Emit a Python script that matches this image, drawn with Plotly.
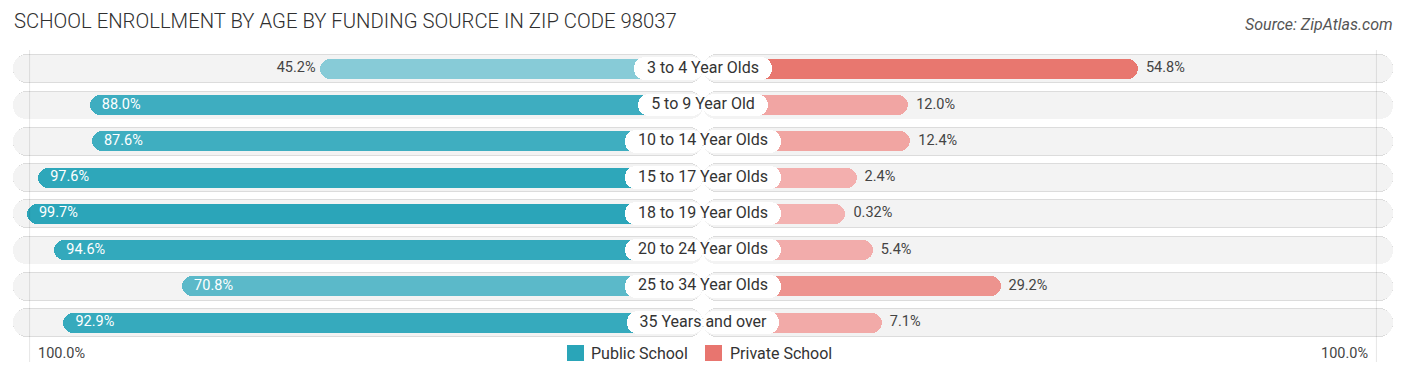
import plotly.graph_objects as go

# ---------------- data ----------------
categories = ["3 to 4 Year Olds", "5 to 9 Year Old", "10 to 14 Year Olds", "15 to 17 Year Olds",
              "18 to 19 Year Olds", "20 to 24 Year Olds", "25 to 34 Year Olds", "35 Years and over"]
public_vals = [45.2, 88.0, 87.6, 97.6, 99.7, 94.6, 70.8, 92.9]
private_vals = [54.8, 12.0, 12.4, 2.4, 0.32, 5.4, 29.2, 7.1]
public_labels = ["45.2%", "88.0%", "87.6%", "97.6%", "99.7%", "94.6%", "70.8%", "92.9%"]
private_labels = ["54.8%", "12.0%", "12.4%", "2.4%", "0.32%", "5.4%", "29.2%", "7.1%"]
series_names = ["Public School", "Private School"]
axis_labels = ["100.0%", "100.0%"]
title = "SCHOOL ENROLLMENT BY AGE BY FUNDING SOURCE IN ZIP CODE 98037"
source = "Source: ZipAtlas.com"

# ---------------- geometry / style ----------------
W, H = 1406, 377
CX = 703.0          # px of centre line
PXU = 5.37          # px per percent
OFF = 26.2          # gap (in % units) reserved for the centre label
XR = CX / PXU
ROW0, ROWH = 68.75, 36.25
YTOP = -ROW0 / ROWH
YBOT = YTOP + H / ROWH
FONT = "Roboto"

PUB_DARK = "#2aa5b8"
PRI_DARK = "#e8756f"


def pub_color(v):
    c0, c1 = (211, 235, 240), (42, 165, 185)
    t = v / 100
    return "rgb(%d,%d,%d)" % tuple(round(a + (b - a) * t) for a, b in zip(c0, c1))


def pri_color(v):
    c0, slope = (243, 178, 177), (-0.2, -1.07, -1.2)
    return "rgb(%d,%d,%d)" % tuple(round(a + s * v) for a, s in zip(c0, slope))


CW = {str(d): 0.5615 for d in range(10)}
CW.update({" ": 0.2476, "a": 0.531, "d": 0.548, "e": 0.517, "l": 0.242, "n": 0.540, "o": 0.557,
           "r": 0.331, "s": 0.516, "t": 0.320, "v": 0.483, "Y": 0.616, "O": 0.672})


def text_px(s, size):
    return sum(CW.get(ch, 0.55) for ch in s) * size


fig = go.Figure()

# background pills (shadow + fill), built as two rounded halves each
PILL = OFF + 100 + 2.3
for w, col, rad in [(0.79, "#dcdcdc", 14), (0.745, "#f3f3f3", 13)]:
    for sgn in (-1, 1):
        fig.add_trace(go.Bar(orientation="h", y=categories, x=[sgn * PILL] * len(categories), base=0,
                             width=w, marker=dict(color=col, cornerradius=rad, line=dict(width=0)),
                             showlegend=False, hoverinfo="skip"))

# public (left) bars
fig.add_trace(go.Bar(orientation="h", y=categories, x=[-(OFF + v) for v in public_vals], base=0,
                     width=0.552, name=series_names[0],
                     marker=dict(color=[pub_color(v) for v in public_vals], cornerradius=10,
                                 line=dict(width=0)),
                     showlegend=False, hoverinfo="skip"))
# private (right) bars
fig.add_trace(go.Bar(orientation="h", y=categories, x=[OFF + v for v in private_vals], base=0,
                     width=0.552, name=series_names[1],
                     marker=dict(color=[pri_color(v) for v in private_vals], cornerradius=10,
                                 line=dict(width=0)),
                     showlegend=False, hoverinfo="skip"))

# centre label boxes
halfw = [(text_px(c, 16) + 26) / 2 / PXU for c in categories]
for sgn in (-1, 1):
    fig.add_trace(go.Bar(orientation="h", y=categories, x=[sgn * h for h in halfw], base=0,
                         width=0.634, marker=dict(color="white", cornerradius=11, line=dict(width=0)),
                         showlegend=False, hoverinfo="skip"))

# centre labels
fig.add_trace(go.Scatter(x=[0] * len(categories), y=categories, mode="text", text=categories,
                         textposition="middle center", textfont=dict(family=FONT, size=16, color="#333333"),
                         showlegend=False, hoverinfo="skip"))

# public value labels
px_, pos_, col_ = [], [], []
for v in public_vals:
    end = -(OFF + v)
    if v > 60:
        px_.append(end + 12 / PXU); pos_.append("middle right"); col_.append("white")
    else:
        px_.append(end - 4 / PXU); pos_.append("middle left"); col_.append("#444444")
fig.add_trace(go.Scatter(x=px_, y=categories, mode="text", text=public_labels, textposition=pos_,
                         textfont=dict(family=FONT, size=14.5, color=col_), showlegend=False, hoverinfo="skip"))

# private value labels
fig.add_trace(go.Scatter(x=[OFF + v + 8 / PXU for v in private_vals], y=categories, mode="text",
                         text=private_labels, textposition="middle right",
                         textfont=dict(family=FONT, size=14.5, color="#444444"),
                         showlegend=False, hoverinfo="skip"))

shapes = []
# faint vertical guide lines
for sgn in (-1, 1):
    shapes.append(dict(type="line", xref="x", yref="paper", x0=sgn * 125.4, x1=sgn * 125.4,
                       y0=1 - 362 / H, y1=1 - 50 / H, line=dict(color="rgba(0,0,0,0.10)", width=1),
                       layer="above"))
# legend squares
for x0, col in [(567, PUB_DARK), (705, PRI_DARK)]:
    shapes.append(dict(type="rect", xref="paper", yref="paper", x0=x0 / W, x1=(x0 + 17) / W,
                       y0=1 - 361 / H, y1=1 - 345 / H, fillcolor=col, line=dict(width=0)))

annotations = [
    dict(text=title, x=12 / W, y=1 - 21 / H, xref="paper", yref="paper", xanchor="left", yanchor="middle",
         showarrow=False, font=dict(family=FONT, size=20.3, color="#2f2f2f", weight=300)),
    dict(text="<i>" + source + "</i>", x=1395 / W, y=1 - 24 / H, xref="paper", yref="paper",
         xanchor="right", yanchor="middle", showarrow=False, font=dict(family=FONT, size=16, color="#555555")),
    dict(text=axis_labels[0], x=36 / W, y=1 - 353 / H, xref="paper", yref="paper", xanchor="left",
         yanchor="middle", showarrow=False, font=dict(family=FONT, size=14.5, color="#444444")),
    dict(text=axis_labels[1], x=1370 / W, y=1 - 353 / H, xref="paper", yref="paper", xanchor="right",
         yanchor="middle", showarrow=False, font=dict(family=FONT, size=14.5, color="#444444")),
    dict(text=series_names[0], x=589 / W, y=1 - 353 / H, xref="paper", yref="paper", xanchor="left",
         yanchor="middle", showarrow=False, font=dict(family=FONT, size=16, color="#333333")),
    dict(text=series_names[1], x=728 / W, y=1 - 353 / H, xref="paper", yref="paper", xanchor="left",
         yanchor="middle", showarrow=False, font=dict(family=FONT, size=16, color="#333333")),
]

fig.update_layout(
    width=W, height=H, margin=dict(l=0, r=0, t=0, b=0),
    paper_bgcolor="white", plot_bgcolor="white",
    barmode="overlay", bargap=0,
    xaxis=dict(range=[-XR, XR], visible=False, fixedrange=True),
    yaxis=dict(type="category", categoryorder="array", categoryarray=categories,
               range=[YBOT, YTOP], visible=False, fixedrange=True),
    shapes=shapes, annotations=annotations, hovermode=False,
)

fig.write_html("out.html", config={"displayModeBar": False},
               post_script="document.body.style.margin='0';document.body.style.overflow='hidden';")
